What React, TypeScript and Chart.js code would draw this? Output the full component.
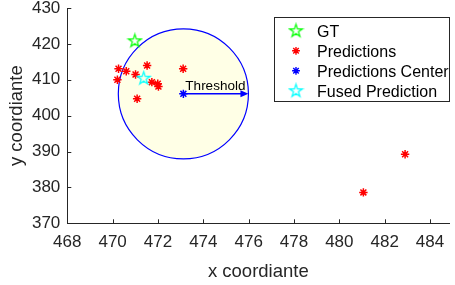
import React, { useEffect, useRef } from 'react';
import { Chart, registerables } from 'chart.js';

Chart.register(...registerables);

// ---- data ----
const gtX = [470.98];
const gtY = [420.85];
const predX = [470.26, 470.6, 470.21, 471.01, 471.52, 471.73, 471.99, 472.02, 471.08, 473.11, 481.06, 482.9];
const predY = [413.06, 412.39, 410.0, 411.47, 413.97, 409.33, 408.89, 408.14, 404.72, 413.06, 378.61, 389.25];
const centerX = [473.12];
const centerY = [406.07];
const fusedX = [471.37];
const fusedY = [410.44];
const threshold = 2.87;
const xTicks = [468, 470, 472, 474, 476, 478, 480, 482, 484];
const yTicks = [370, 380, 390, 400, 410, 420, 430];
const legendLabels = ['GT', 'Predictions', 'Predictions Center', 'Fused Prediction'];
const xTitle = 'x coordiante';
const yTitle = 'y coordiante';
const thresholdLabel = 'Threshold';

const FONT = '"Liberation Sans", Arial, Helvetica, sans-serif';
const AXIS_COLOR = '#262626';

function makePentagram(color: string): HTMLCanvasElement {
  const c = document.createElement('canvas');
  c.width = 17;
  c.height = 17;
  const g = c.getContext('2d')!;
  const cx = 8.5, cy = 8.7, ro = 6.8, ri = ro * 0.382;
  g.beginPath();
  for (let i = 0; i < 10; i++) {
    const r = i % 2 === 0 ? ro : ri;
    const a = -Math.PI / 2 + (i * Math.PI) / 5;
    const px = cx + r * Math.cos(a);
    const py = cy + r * Math.sin(a);
    if (i === 0) g.moveTo(px, py);
    else g.lineTo(px, py);
  }
  g.closePath();
  g.strokeStyle = color;
  g.lineWidth = 1.2;
  g.stroke();
  return c;
}

const zip = (xs: number[], ys: number[]) => xs.map((x, i) => ({ x, y: ys[i] }));

export default function App() {
  const ref = useRef<HTMLCanvasElement>(null);

  useEffect(() => {
    const greenStar = makePentagram('#00ff00');
    const cyanStar = makePentagram('#00ffff');

    const circlePlugin = {
      id: 'thresholdCircle',
      beforeDatasetsDraw(chart: any) {
        const { ctx } = chart;
        const xs = chart.scales.x;
        const ys = chart.scales.y;
        const cx = xs.getPixelForValue(centerX[0]);
        const cy = ys.getPixelForValue(centerY[0]);
        const ex = xs.getPixelForValue(centerX[0] + threshold);
        const r = ex - cx;
        ctx.save();
        ctx.beginPath();
        ctx.arc(cx, cy, r, 0, Math.PI * 2);
        ctx.fillStyle = '#ffffe6';
        ctx.fill();
        ctx.strokeStyle = '#0000ff';
        ctx.lineWidth = 1.2;
        ctx.stroke();
        // arrow
        ctx.beginPath();
        ctx.moveTo(cx, cy);
        ctx.lineTo(ex - 5, cy);
        ctx.lineWidth = 1.5;
        ctx.stroke();
        ctx.beginPath();
        ctx.moveTo(ex, cy);
        ctx.lineTo(ex - 8, cy - 3.5);
        ctx.lineTo(ex - 8, cy + 3.5);
        ctx.closePath();
        ctx.fillStyle = '#0000ff';
        ctx.fill();
        // label
        ctx.fillStyle = '#000000';
        ctx.font = `13.5px ${FONT}`;
        ctx.textBaseline = 'alphabetic';
        ctx.textAlign = 'left';
        ctx.fillText(thresholdLabel, cx + 2, cy - 4);
        ctx.restore();
      },
      afterDraw(chart: any) {
        const { ctx, chartArea } = chart;
        const xs = chart.scales.x;
        const ys = chart.scales.y;
        ctx.save();
        ctx.strokeStyle = AXIS_COLOR;
        ctx.lineWidth = 1;
        ctx.beginPath();
        xTicks.forEach((v) => {
          const px = Math.round(xs.getPixelForValue(v)) + 0.5;
          ctx.moveTo(px, chartArea.bottom);
          ctx.lineTo(px, chartArea.bottom - 4);
        });
        yTicks.forEach((v) => {
          const py = Math.round(ys.getPixelForValue(v)) + 0.5;
          ctx.moveTo(chartArea.left, py);
          ctx.lineTo(chartArea.left + 4, py);
        });
        ctx.stroke();

        // legend
        const bx = 274.5, by = 17.5, bw = 175, bh = 84;
        ctx.fillStyle = '#ffffff';
        ctx.fillRect(bx, by, bw, bh);
        ctx.strokeStyle = AXIS_COLOR;
        ctx.lineWidth = 1;
        ctx.strokeRect(bx, by, bw, bh);
        const markers: any[] = [
          { style: greenStar, color: '#00ff00' },
          { style: 'star', color: '#ff0000' },
          { style: 'star', color: '#0000ff' },
          { style: cyanStar, color: '#00ffff' },
        ];
        ctx.font = `16px ${FONT}`;
        ctx.textAlign = 'left';
        ctx.textBaseline = 'alphabetic';
        legendLabels.forEach((lab, i) => {
          const cyRow = 30.8 + i * 20;
          const m = markers[i];
          if (typeof m.style === 'string') {
            ctx.strokeStyle = m.color;
            ctx.lineWidth = 1.4;
            ctx.beginPath();
            const r = 3.9;
            for (let k = 0; k < 4; k++) {
              const a = (k * Math.PI) / 4;
              ctx.moveTo(296 - r * Math.cos(a), cyRow - r * Math.sin(a));
              ctx.lineTo(296 + r * Math.cos(a), cyRow + r * Math.sin(a));
            }
            ctx.stroke();
          } else {
            ctx.drawImage(m.style, 296 - m.style.width / 2, cyRow - m.style.height / 2);
          }
          ctx.fillStyle = '#000000';
          ctx.fillText(lab, 317, cyRow + 5.9);
        });
        ctx.restore();
      },
    };

    const chart = new Chart(ref.current!, {
      type: 'scatter',
      data: {
        datasets: [
          {
            label: legendLabels[0],
            data: zip(gtX, gtY),
            pointStyle: greenStar as any,
            borderColor: '#00ff00',
            backgroundColor: '#00ff00',
            order: 1,
          },
          {
            label: legendLabels[1],
            data: zip(predX, predY),
            pointStyle: 'star',
            pointRadius: 4.2,
            borderColor: '#ff0000',
            backgroundColor: '#ff0000',
            borderWidth: 1.5,
            order: 3,
          },
          {
            label: legendLabels[2],
            data: zip(centerX, centerY),
            pointStyle: 'star',
            pointRadius: 4.2,
            borderColor: '#0000ff',
            backgroundColor: '#0000ff',
            borderWidth: 1.5,
            order: 2,
          },
          {
            label: legendLabels[3],
            data: zip(fusedX, fusedY),
            pointStyle: cyanStar as any,
            borderColor: '#00ffff',
            backgroundColor: '#00ffff',
            order: 0,
          },
        ],
      },
      options: {
        responsive: false,
        animation: false,
        events: [],
        layout: { padding: { top: 8, right: 0, left: 0, bottom: 0 } },
        plugins: {
          legend: { display: false },
          tooltip: { enabled: false },
        },
        scales: {
          x: {
            type: 'linear',
            min: 468,
            max: 484.85,
            afterBuildTicks: (s: any) => {
              s.ticks = xTicks.map((v) => ({ value: v }));
            },
            afterFit: (s: any) => {
              s.height = 61.7;
              s.paddingLeft = 0;
              s.paddingRight = 0;
            },
            grid: { display: false, drawTicks: false },
            border: { display: true, color: AXIS_COLOR, width: 1 },
            ticks: {
              color: AXIS_COLOR,
              font: { family: FONT, size: 17 },
              padding: 9,
              maxRotation: 0,
              autoSkip: false,
            },
            title: {
              display: true,
              text: xTitle,
              color: AXIS_COLOR,
              font: { family: FONT, size: 18.5, lineHeight: 1 },
              padding: { top: 0, bottom: 4 },
            },
          },
          y: {
            type: 'linear',
            min: 370,
            max: 430,
            afterBuildTicks: (s: any) => {
              s.ticks = yTicks.map((v) => ({ value: v }));
            },
            afterFit: (s: any) => {
              s.width = 67.3;
              s.paddingTop = 0;
              s.paddingBottom = 0;
            },
            grid: { display: false, drawTicks: false },
            border: { display: true, color: AXIS_COLOR, width: 1 },
            ticks: {
              color: AXIS_COLOR,
              font: { family: FONT, size: 17 },
              padding: 7,
              autoSkip: false,
            },
            title: {
              display: true,
              text: yTitle,
              color: AXIS_COLOR,
              font: { family: FONT, size: 18.5, lineHeight: 1 },
              padding: { top: 8, bottom: 0 },
            },
          },
        },
      },
      plugins: [circlePlugin],
    });

    return () => chart.destroy();
  }, []);

  return (
    <div style={{ position: 'absolute', left: 0, top: 0, width: 455, height: 285, background: '#ffffff' }}>
      <canvas ref={ref} width={455} height={285} />
    </div>
  );
}
